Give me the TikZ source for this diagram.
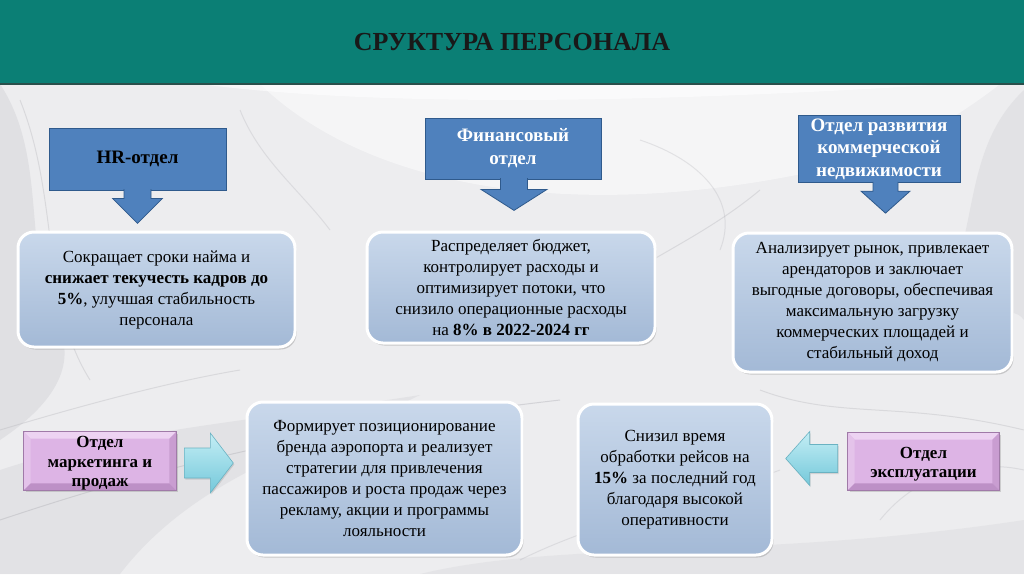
\documentclass[tikz,border=0pt]{standalone}
\usepackage{fontspec}
\setmainfont{Liberation Serif}
\usetikzlibrary{shadows,calc}
\definecolor{tealband}{HTML}{0B7F75}
\definecolor{tealedge}{HTML}{2A4F4B}
\definecolor{bgbase}{HTML}{EDEDEF}
\definecolor{marble}{HTML}{B4B4BA}
\definecolor{calloutblue}{HTML}{4F81BD}
\definecolor{calloutedge}{HTML}{2F5A8C}
\definecolor{boxtop}{HTML}{C9D8EB}
\definecolor{boxbot}{HTML}{A3B9D6}
\definecolor{pinkmid}{HTML}{DDB4E5}
\definecolor{pinktop}{HTML}{EDD3F2}
\definecolor{pinkleft}{HTML}{E4C3EA}
\definecolor{pinkright}{HTML}{C99DD1}
\definecolor{pinkbot}{HTML}{BD90C6}
\definecolor{pinkedge}{HTML}{A07AA8}
\definecolor{cyantop}{HTML}{C4EEF5}
\definecolor{cyanbot}{HTML}{74C8DA}
\definecolor{cyanedge}{HTML}{6AB2C2}
\tikzset{
  infobox/.style={rounded corners=16pt, draw=white, line width=3pt,
    top color=boxtop, bottom color=boxbot,
    drop shadow={opacity=0.35, shadow xshift=1.5pt, shadow yshift=-2.5pt},
    align=center, inner sep=0pt, text=black,
    font=\fontsize{17}{21}\selectfont},
  calloutbox/.style={draw=calloutedge, fill=calloutblue, line width=0.8pt,
    inner sep=0pt, align=center},
  calloutarr/.style={draw=calloutedge, fill=calloutblue, line width=0.8pt, line join=miter},
  pinkbox/.style={draw=pinkedge, fill=pinkmid, line width=0.6pt, inner sep=0pt,
    drop shadow={opacity=0.3, shadow xshift=1.5pt, shadow yshift=-2pt}},
  pinklabel/.style={font=\bfseries\fontsize{17}{19.5}\selectfont, align=center, inner sep=0pt, text=black},
  cyanarr/.style={draw=cyanedge, line width=0.6pt, top color=cyantop, bottom color=cyanbot,
    drop shadow={opacity=0.25, shadow xshift=1pt, shadow yshift=-1.5pt}},
  streak/.style={marble, line width=1pt, opacity=0.35},
}
% down arrow below a callout: #1 node, #2 x offset, #3 shaft half width, #4 shaft length, #5 head half width, #6 head length
\newcommand\calloutdown[6]{%
  \path[calloutarr] ($(#1.south)+(#2-#3,-1.2)$) -- ($(#1.south)+(#2-#3,#4)$)
    -- ($(#1.south)+(#2-#5,#4)$) -- ($(#1.south)+(#2,#4+#6)$)
    -- ($(#1.south)+(#2+#5,#4)$) -- ($(#1.south)+(#2+#3,#4)$)
    -- ($(#1.south)+(#2+#3,-1.2)$);
}
% bevel edges of a pink box
\newcommand\bevel[1]{%
  \fill[pinktop] (#1.north west) -- (#1.north east) -- ($(#1.north east)+(-7,7)$) -- ($(#1.north west)+(7,7)$) -- cycle;
  \fill[pinkleft] (#1.north west) -- ($(#1.north west)+(7,7)$) -- ($(#1.south west)+(7,-7)$) -- (#1.south west) -- cycle;
  \fill[pinkright] (#1.north east) -- ($(#1.north east)+(-7,7)$) -- ($(#1.south east)+(-7,-7)$) -- (#1.south east) -- cycle;
  \fill[pinkbot] (#1.south west) -- ($(#1.south west)+(7,-7)$) -- ($(#1.south east)+(-7,-7)$) -- (#1.south east) -- cycle;
  \draw[pinkedge, line width=0.6pt] (#1.north west) rectangle (#1.south east);
}
\begin{document}
\begin{tikzpicture}[x=1pt,y=-1pt]
\useasboundingbox (0,0) rectangle (1024,574);
% ---------- background (marble) ----------
\fill[bgbase] (0,84) rectangle (1024,574);
\begin{scope}
\clip (0,84) rectangle (1024,574);
\fill[white, opacity=0.6] (200,84) .. controls (400,110) and (700,100) .. (950,84) -- cycle;
\fill[white, opacity=0.45] (260,84) .. controls (380,200) and (620,230) .. (900,150) .. controls (950,120) and (980,100) .. (1000,84) -- cycle;
\fill[marble, opacity=0.22] (0,84) .. controls (50,160) and (20,260) .. (60,330) .. controls (80,380) and (30,420) .. (0,440) -- cycle;
\fill[marble, opacity=0.18] (0,574) -- (0,470) .. controls (120,430) and (260,420) .. (420,395) .. controls (330,440) and (200,470) .. (120,574) -- cycle;
\fill[marble, opacity=0.18] (1024,90) .. controls (960,150) and (980,240) .. (940,300) .. controls (980,330) and (1010,300) .. (1024,320) -- cycle;
\fill[marble, opacity=0.15] (420,574) .. controls (560,540) and (760,560) .. (1024,520) -- (1024,574) -- cycle;
\draw[streak, opacity=0.45] (0,520) .. controls (150,470) and (300,430) .. (560,400);
\draw[streak] (0,430) .. controls (100,400) and (180,380) .. (240,370);
\draw[streak] (20,100) .. controls (60,200) and (40,300) .. (90,380);
\draw[streak] (560,320) .. controls (640,260) and (700,240) .. (760,190);
\draw[streak, opacity=0.3] (640,140) .. controls (700,160) and (740,200) .. (720,250);
\draw[streak] (760,390) .. controls (840,420) and (900,400) .. (1024,430);
\draw[streak, opacity=0.3] (880,520) .. controls (920,470) and (980,460) .. (1024,470);
\draw[streak, opacity=0.3] (240,110) .. controls (260,160) and (300,190) .. (330,230);
\draw[streak, opacity=0.3] (520,560) .. controls (600,520) and (700,500) .. (780,470);
\end{scope}
% ---------- header ----------
\fill[tealband] (0,0) rectangle (1024,83);
\fill[tealedge] (0,83) rectangle (1024,85);
\node[font=\bfseries\fontsize{26}{28}\selectfont, text=black!90] (title) at (512,42) {СРУКТУРА ПЕРСОНАЛА};
% ---------- top callouts ----------
\node[calloutbox, minimum width=177pt, minimum height=62pt, text=black,
      font=\bfseries\fontsize{19}{21}\selectfont] (hr) at (137.5,159) {HR-отдел};
\calloutdown{hr}{0}{13.5}{8}{25}{25}
\node[calloutbox, minimum width=176pt, minimum height=61pt, text=white,
      font=\bfseries\fontsize{19}{23}\selectfont] (fin) at (513,148.5) {\raisebox{1pt}{\begin{tabular}{@{}c@{}}Финансовый\\ отдел\end{tabular}}};
\calloutdown{fin}{1}{13.5}{10}{33}{21}
\node[calloutbox, minimum width=162pt, minimum height=62pt, text=white,
      font=\bfseries\fontsize{19}{22.5}\selectfont] (com) at (879,149) {\raisebox{2pt}{\begin{tabular}{@{}c@{}}Отдел развития\\коммерческой\\недвижимости\end{tabular}}};
\calloutdown{com}{6.5}{12.5}{8}{24.5}{22}
% ---------- info boxes ----------
\node[infobox, minimum width=277pt, minimum height=115pt] (hrtxt) at (156.5,289.5)
  {Сокращает сроки найма и\\ \textbf{снижает текучесть кадров до}\\ \textbf{5\%}, улучшая стабильность\\ персонала};
\node[infobox, minimum width=288pt, minimum height=111pt] (fintxt) at (511,287.5)
  {Распределяет бюджет,\\ контролирует расходы и\\ оптимизирует потоки, что\\ снизило операционные расходы\\ на \textbf{8\% в 2022-2024 гг}};
\node[infobox, minimum width=279pt, minimum height=139pt] (comtxt) at (872.5,302.5)
  {Анализирует рынок, привлекает\\ арендаторов и заключает\\ выгодные договоры, обеспечивая\\ максимальную загрузку\\ коммерческих площадей и\\ стабильный доход};
\node[infobox, minimum width=275pt, minimum height=153pt] (mktxt) at (384.5,478.5)
  {Формирует позиционирование\\ бренда аэропорта и реализует\\ стратегии для привлечения\\ пассажиров и роста продаж через\\ рекламу, акции и программы\\ лояльности};
\node[infobox, minimum width=194pt, minimum height=151pt] (optxt) at (675,479.5)
  {Снизил время\\ обработки рейсов на\\ \textbf{15\%} за последний год\\ благодаря высокой\\ оперативности};
% ---------- pink department boxes ----------
\node[pinkbox, minimum width=152pt, minimum height=58pt] (mk) at (100,461) {};
\bevel{mk}
\node[pinklabel] (mklabel) at ($(mk.center)+(0,2.5)$) {Отдел\\ маркетинга и\\ продаж};
\node[pinkbox, minimum width=151pt, minimum height=57pt] (op) at (923.5,461.5) {};
\bevel{op}
\node[pinklabel] (oplabel) at ($(op.center)+(0,2.5)$) {Отдел\\ эксплуатации};
% ---------- cyan block arrows ----------
\coordinate (ra) at ($(mk.east)+(8,2)$);
\path[cyanarr] ($(ra)+(0,-15)$) -- ($(ra)+(26,-15)$) -- ($(ra)+(26,-30)$) -- ($(ra)+(49,0)$)
  -- ($(ra)+(26,30)$) -- ($(ra)+(26,15)$) -- ($(ra)+(0,15)$) -- cycle;
\coordinate (la) at ($(op.west)+(-10,-3)$);
\path[cyanarr] ($(la)+(0,-14)$) -- ($(la)+(-28,-14)$) -- ($(la)+(-28,-27)$) -- ($(la)+(-52,0)$)
  -- ($(la)+(-28,27)$) -- ($(la)+(-28,14)$) -- ($(la)+(0,14)$) -- cycle;
\end{tikzpicture}
\end{document}
